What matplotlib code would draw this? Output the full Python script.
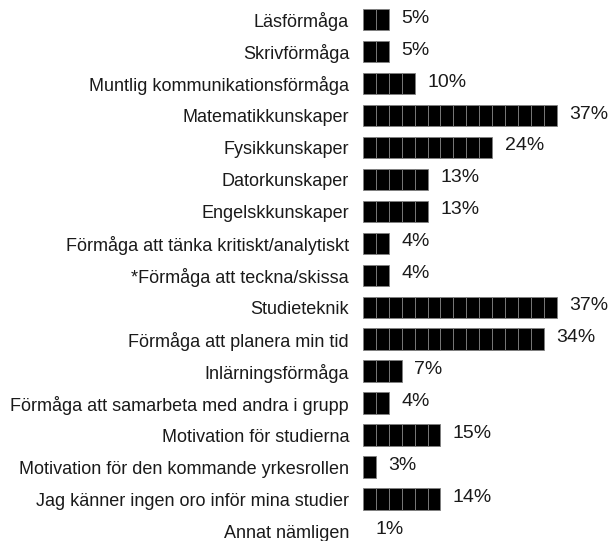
import matplotlib
matplotlib.use("Agg")
import matplotlib.pyplot as plt

categories = [
    "Läsförmåga", "Skrivförmåga", "Muntlig kommunikationsförmåga",
    "Matematikkunskaper", "Fysikkunskaper", "Datorkunskaper",
    "Engelskkunskaper", "Förmåga att tänka kritiskt/analytiskt",
    "*Förmåga att teckna/skissa", "Studieteknik",
    "Förmåga att planera min tid", "Inlärningsförmåga",
    "Förmåga att samarbeta med andra i grupp", "Motivation för studierna",
    "Motivation för den kommande yrkesrollen",
    "Jag känner ingen oro inför mina studier", "Annat nämligen",
]
values = [5, 5, 10, 37, 24, 13, 13, 4, 4, 37, 34, 7, 4, 15, 3, 14, 1]
labels = [f"{v}%" for v in values]

plt.rcParams["font.family"] = ["Liberation Sans", "DejaVu Sans"]

fig = plt.figure(figsize=(6.08, 5.41), dpi=100)
ax = fig.add_axes([363/608, 0, 1 - 363/608, 1])

# pictogram-style bars: each block represents an equal share
unit = 37 / 15
for i, v in enumerate(values):
    n = int(round(v / unit))
    for k in range(n):
        ax.barh(i, unit, left=k * unit, height=0.67, color="black",
                edgecolor="#808080", linewidth=0.6)

for i, (v, lab) in enumerate(zip(values, labels)):
    end = int(round(v / unit)) * unit
    ax.annotate(lab, (end, i), xytext=(9, 1), textcoords="offset points",
                va="center", ha="left", fontsize=14, color="#1a1a1a")

ax.set_yticks(range(len(categories)))
ax.set_yticklabels(categories, fontsize=13, color="#1a1a1a")
ax.tick_params(axis="y", length=0, pad=10)
ax.set_xticks([])
ax.set_xlim(0, 245/5.23)
step = 31.97
ax.set_ylim((541-19.5)/step, -19.5/step)
for s in ax.spines.values():
    s.set_visible(False)

fig.savefig("out.png", dpi=100)
